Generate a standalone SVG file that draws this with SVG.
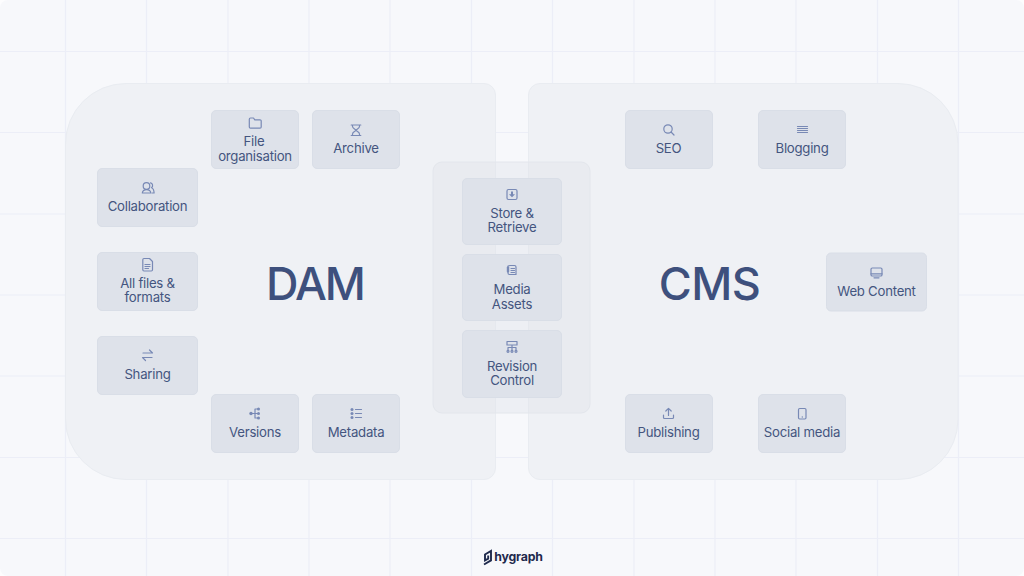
<svg xmlns="http://www.w3.org/2000/svg" width="1024" height="576" viewBox="0 0 1024 576">
<style>
.grid line{stroke:#eceef7;stroke-width:1.2}
.panel{fill:#eff1f5;stroke:#e9ecf1;stroke-width:1}
.card{fill:#dee2ea;stroke:#d9dee7;stroke-width:1}
.lbl{font-family:Inter,"Noto Sans","Liberation Sans",sans-serif;font-size:13.200px;fill:#44557f;text-anchor:middle;letter-spacing:-.25px}
.big{font-family:Inter,"Noto Sans","Liberation Sans",sans-serif;font-size:45px;font-weight:500;fill:#3e507d;text-anchor:middle}
.ic{fill:none;stroke:#7889b5;stroke-width:1.2;stroke-linecap:round;stroke-linejoin:round}
.icf{fill:#7889b5}
</style>
<rect width="1024" height="576" fill="#fdfdfe"/>
<rect width="1024" height="576" rx="8" fill="#f7f8fb"/>
<g class="grid">
<line x1="65.5" y1="0" x2="65.5" y2="576"/><line x1="146.5" y1="0" x2="146.5" y2="576"/><line x1="228" y1="0" x2="228" y2="576"/><line x1="309" y1="0" x2="309" y2="576"/><line x1="390" y1="0" x2="390" y2="576"/><line x1="471.5" y1="0" x2="471.5" y2="576"/><line x1="552.5" y1="0" x2="552.5" y2="576"/><line x1="634" y1="0" x2="634" y2="576"/><line x1="715" y1="0" x2="715" y2="576"/><line x1="796" y1="0" x2="796" y2="576"/><line x1="877.5" y1="0" x2="877.5" y2="576"/><line x1="958.5" y1="0" x2="958.5" y2="576"/>
<line x1="0" y1="51.5" x2="1024" y2="51.5"/><line x1="0" y1="132.5" x2="1024" y2="132.5"/><line x1="0" y1="214" x2="1024" y2="214"/><line x1="0" y1="295" x2="1024" y2="295"/><line x1="0" y1="376" x2="1024" y2="376"/><line x1="0" y1="457.5" x2="1024" y2="457.5"/><line x1="0" y1="538.5" x2="1024" y2="538.5"/>
</g>
<g id="dam-panel"><path class="panel" d="M126 83.500H484a11.500 11.500 0 0 1 11.500 11.500V468a11.500 11.500 0 0 1-11.500 11.500H126a60.500 60.500 0 0 1-60.500-60.500V144a60.500 60.500 0 0 1 60.500-60.500Z"/>
<text class="big" x="315" y="299.500" letter-spacing="-2">DAM</text></g>
<g id="cms-panel"><path class="panel" d="M540 83.500H898a60 60 0 0 1 60 60V419.500a60 60 0 0 1-60 60H540a11.500 11.500 0 0 1-11.500-11.500V95a11.500 11.500 0 0 1 11.500-11.500Z"/>
<text class="big" x="709.500" y="299.500" letter-spacing="-.6">CMS</text></g>
<g id="shared-panel"><rect x="433" y="162" width="157" height="251" rx="9" fill="#dfe3ea" fill-opacity=".42" stroke="#e3e6ec"/></g>

<g id="file-organisation"><rect class="card" x="211.500" y="110.500" width="87" height="58" rx="4.500"/>
<path class="ic" d="M250.500 118h3l1.300 1.800h5.200a1.200 1.200 0 0 1 1.200 1.200v6a1.200 1.200 0 0 1-1.200 1.200h-9.500a1.200 1.200 0 0 1-1.200-1.200v-7.800a1.200 1.200 0 0 1 1.200-1.200Z"/>
<text class="lbl" x="254" y="146">File</text><text class="lbl" x="255" y="160.500">organisation</text></g>
<g id="archive"><rect class="card" x="312.500" y="110.500" width="87" height="58" rx="4.500"/>
<path class="ic" d="M351.200 125h9.600M351.200 135.500h9.600M352.500 125v1.500c0 2 3.500 3 3.500 3.800s-3.500 1.700-3.500 3.700v1.500M359.500 125v1.500c0 2-3.500 3-3.500 3.800s3.500 1.700 3.500 3.700v1.500"/>
<text class="lbl" x="356" y="153">Archive</text></g>
<g id="collaboration"><rect class="card" x="97.500" y="168.500" width="100" height="58" rx="4.500"/>
<circle class="ic" cx="146.500" cy="186" r="3.300"/><path class="ic" d="M142.300 193c.3-2.200 2.100-3.300 4.300-3.300s3.900 1.100 4.300 3.300ZM150.500 182.800c2.100.2 3 3.400 1 4.900 1.600.6 2.500 2.300 2.600 5.300h-1.800"/>
<text class="lbl" x="147.500" y="211">Collaboration</text></g>
<g id="all-files"><rect class="card" x="97.500" y="252.500" width="100" height="58" rx="4.500"/>
<path class="ic" d="M144 258.500h5.500l3 3v8.300a1.200 1.200 0 0 1-1.200 1.200h-7.300a1.200 1.200 0 0 1-1.200-1.200v-10.100a1.200 1.200 0 0 1 1.200-1.200ZM145 264.500h5M145 266.500h5M145 268.500h3.500"/>
<text class="lbl" x="147.500" y="288">All files &amp;</text><text class="lbl" x="147.500" y="302">formats</text></g>
<g id="sharing"><rect class="card" x="97.500" y="336.500" width="100" height="58" rx="4.500"/>
<path class="ic" stroke-width="1.300" d="M143 353h9.500l-3-3M152 357.500h-9.500l3 3"/>
<text class="lbl" x="147.500" y="379">Sharing</text></g>
<g id="versions"><rect class="card" x="211.500" y="394.500" width="87" height="58" rx="4.500"/>
<path class="ic" d="M252 413.500h3M255 409h3M255 409v9M255 413.500h3M255 418h3"/><circle class="icf" cx="251" cy="413.500" r="1.700"/><circle class="icf" cx="258.500" cy="409" r="1.500"/><circle class="icf" cx="258.500" cy="413.500" r="1.500"/><circle class="icf" cx="258.500" cy="418" r="1.500"/>
<text class="lbl" x="255" y="437">Versions</text></g>
<g id="metadata"><rect class="card" x="312.500" y="394.500" width="87" height="58" rx="4.500"/>
<circle class="icf" cx="352" cy="409.500" r="1.500"/><circle class="icf" cx="352" cy="413.500" r="1.500"/><circle class="icf" cx="352" cy="417.500" r="1.500"/><path class="ic" d="M355.500 409.500h6M355.500 413.500h6M355.500 417.500h6"/>
<text class="lbl" x="356" y="437">Metadata</text></g>

<g id="store-retrieve"><rect class="card" x="462.500" y="178.500" width="99" height="66" rx="4.500"/>
<rect class="ic" x="507" y="189.500" width="10" height="10" rx="1.500"/><path class="icf" d="M511 191.500h2v2.800h2l-3 3-3-3h2Z"/>
<text class="lbl" x="512" y="217.500">Store &amp;</text><text class="lbl" x="512" y="232">Retrieve</text></g>
<g id="media-assets"><rect class="card" x="462.500" y="254.500" width="99" height="66" rx="4.500"/>
<path class="ic" d="M510 265.500h4.500a1.500 1.500 0 0 1 1.500 1.500v7.500h-6.500a1.500 1.500 0 0 1-1.500-1.500v-7ZM511 268.500h3.500M511 270.500h3.500M511 272.500h3.500"/><rect class="icf" x="506.800" y="266.500" width="2.400" height="6" rx="1"/>
<text class="lbl" x="512" y="294">Media</text><text class="lbl" x="512" y="308.500">Assets</text></g>
<g id="revision-control"><rect class="card" x="462.500" y="330.500" width="99" height="67" rx="4.500"/>
<path class="ic" d="M507 341.500h10v3.500h-10ZM512 345v5M508 350v-2.500h8v2.500"/><circle class="ic" cx="508" cy="351.300" r="1"/><circle class="ic" cx="512" cy="351.300" r="1"/><circle class="ic" cx="516" cy="351.300" r="1"/>
<text class="lbl" x="512" y="370.500">Revision</text><text class="lbl" x="512" y="385">Control</text></g>

<g id="seo"><rect class="card" x="625.500" y="110.500" width="87" height="58" rx="4.500"/>
<circle class="ic" cx="668" cy="129" r="4.200"/><path class="ic" d="M671 132l3 3"/>
<text class="lbl" x="668.500" y="153">SEO</text></g>
<g id="blogging"><rect class="card" x="758.500" y="110.500" width="87" height="58" rx="4.500"/>
<path class="ic" d="M797.500 126.500h10M797.500 128.500h10M797.500 130.500h10M797.500 132.500h10"/>
<text class="lbl" x="802" y="153">Blogging</text></g>
<g id="web-content"><rect class="card" x="826.500" y="253" width="100" height="58" rx="4.500"/>
<rect class="ic" x="871" y="268" width="11" height="8" rx="1.300"/><path class="ic" d="M871 273.800h11M874 277.800h5"/>
<text class="lbl" x="876.500" y="295.500">Web Content</text></g>
<g id="publishing"><rect class="card" x="625.500" y="394.500" width="87" height="58" rx="4.500"/>
<path class="ic" d="M668.500 415.500v-7M665.800 411l2.700-2.700 2.700 2.700M663.500 415v2.500a1 1 0 0 0 1 1h8a1 1 0 0 0 1-1V415"/>
<text class="lbl" x="668.500" y="437">Publishing</text></g>
<g id="social-media"><rect class="card" x="758.500" y="394.500" width="87" height="58" rx="4.500"/>
<rect class="ic" x="798.500" y="408.500" width="7.500" height="10.500" rx="1.200"/><circle class="icf" cx="802.300" cy="417" r=".7"/>
<text class="lbl" x="802" y="437">Social media</text></g>

<g id="logo"><path fill="none" stroke="#1f2a4d" stroke-width="1.900" stroke-linejoin="miter" d="M484 564.500L491 560.400V551L485 554.500V560.500L488.200 558.700V555.500"/>
<text x="518.500" y="560.500" font-family="Inter,'Noto Sans',sans-serif" font-size="12.300" font-weight="700" fill="#1f2a4d" text-anchor="middle" letter-spacing="-.2">hygraph</text></g>
</svg>
